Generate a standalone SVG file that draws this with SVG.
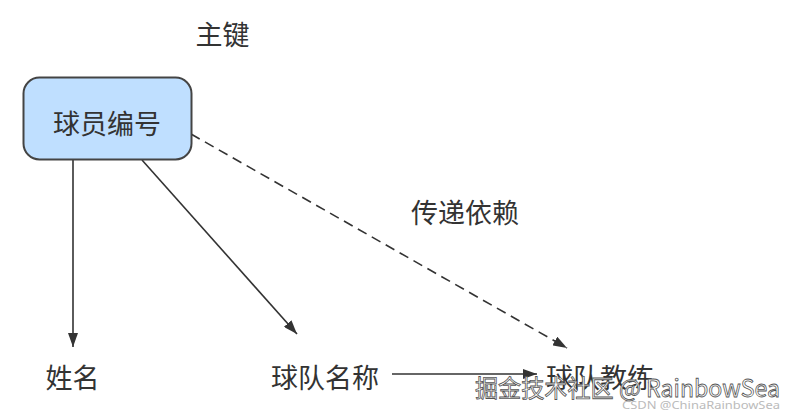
<svg xmlns="http://www.w3.org/2000/svg" width="796" height="415" viewBox="0 0 796 415">
<style>
.t{font-family:"Noto Sans CJK SC","Noto Sans",sans-serif;font-size:27px;fill:#333;text-anchor:middle;dominant-baseline:central}
.ln{stroke:#333;stroke-width:1.6;fill:none}
.wm{font-family:"Noto Sans CJK SC","Noto Sans",sans-serif;font-size:24px;fill:#fff;stroke:#555;stroke-width:0.8;dominant-baseline:central}
.wm2{font-family:"Noto Sans","Noto Sans CJK SC",sans-serif;font-size:11px;fill:#bbb;dominant-baseline:central}
</style>
<defs>
<marker id="ah" viewBox="0 0 14 10" refX="14" refY="5" markerWidth="14" markerHeight="10" markerUnits="userSpaceOnUse" orient="auto">
<path d="M0,0 L14,5 L0,10 Z" fill="#333"/>
</marker>
</defs>
<rect width="796" height="415" fill="#fff"/>
<g id="connectors">
<line class="ln" x1="73" y1="160" x2="73" y2="347" marker-end="url(#ah)"/>
<line class="ln" x1="142" y1="160" x2="297" y2="334" marker-end="url(#ah)"/>
<line class="ln" x1="191" y1="134" x2="567" y2="348" stroke-width="1.8" stroke-dasharray="10,6" marker-end="url(#ah)"/>
<line class="ln" x1="392" y1="374" x2="537" y2="374" marker-end="url(#ah)"/>
</g>
<g id="pk-label"><text class="t" x="222.5" y="33.5">主键</text></g>
<g id="player-id">
<rect x="23.5" y="77.5" width="168" height="82" rx="16" fill="#bfdfff" stroke="#444" stroke-width="2"/>
<text class="t" x="107" y="122">球员编号</text>
</g>
<g id="transitive-label"><text class="t" x="465" y="211">传递依赖</text></g>
<g id="name"><text class="t" x="72.5" y="376">姓名</text></g>
<g id="team-name"><text class="t" x="325" y="376">球队名称</text></g>
<g id="team-coach"><text class="t" x="600" y="376">球队教练</text></g>
<g id="watermark">
<text class="wm" x="475" y="386" textLength="305" lengthAdjust="spacingAndGlyphs">掘金技术社区 @ RainbowSea</text>
<text class="wm2" x="622" y="404" textLength="158" lengthAdjust="spacingAndGlyphs">CSDN @ChinaRainbowSea</text>
</g>
</svg>
